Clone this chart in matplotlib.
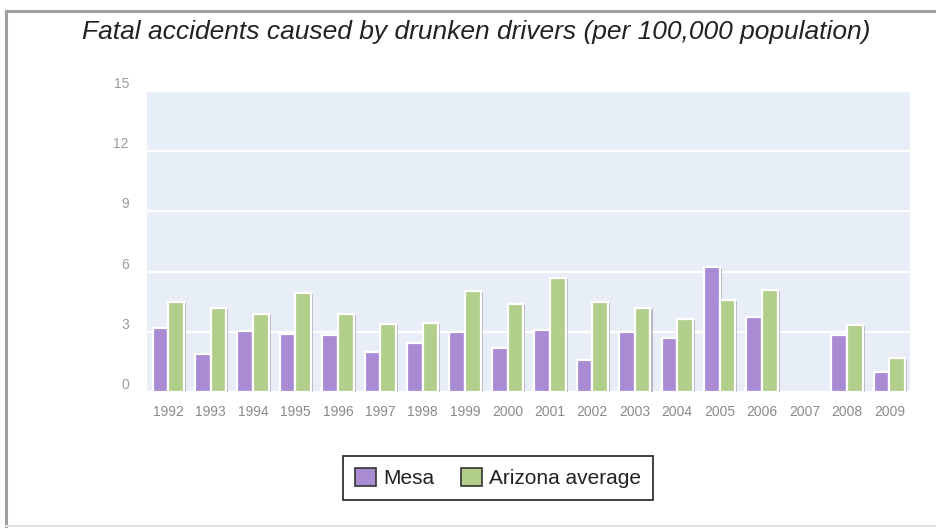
import matplotlib.pyplot as plt
import matplotlib.patheffects as pe
import numpy as np
from matplotlib.patches import Patch
from matplotlib.lines import Line2D

# Fatal accidents per 100,000 population, 2007 has no data.
years = ["1992", "1993", "1994", "1995", "1996", "1997", "1998", "1999", "2000",
         "2001", "2002", "2003", "2004", "2005", "2006", "2007", "2008", "2009"]
mesa = [3.2, 1.9, 3.05, 2.9, 2.85, 2.0, 2.45, 3.0, 2.2,
        3.1, 1.6, 3.0, 2.7, 6.25, 3.75, np.nan, 2.85, 1.0]
arizona = [4.5, 4.2, 3.9, 4.95, 3.9, 3.4, 3.45, 5.05, 4.4,
           5.7, 4.5, 4.2, 3.65, 4.6, 5.1, np.nan, 3.35, 1.7]
y_ticks = [0, 3, 6, 9, 12, 15]

mesa_color = "#a88bd3"
az_color = "#b2ce8b"

plt.rcParams["font.family"] = ["Liberation Sans", "DejaVu Sans"]

fig = plt.figure(figsize=(9.37, 5.29), dpi=100)
ax = fig.add_axes([147 / 937, 1 - 392 / 529, (910.5 - 147) / 937, (392 - 91) / 529])
ax.set_facecolor("#e8eef8")

x = np.arange(len(years))
w = 0.37
shadow = [pe.SimplePatchShadow(offset=(1.5, -1), shadow_rgbFace="#666666", alpha=0.4), pe.Normal()]
b1 = ax.bar(x - w / 2, mesa, w, color=mesa_color, edgecolor="white", linewidth=1.6, zorder=3)
b2 = ax.bar(x + w / 2, arizona, w, color=az_color, edgecolor="white", linewidth=1.6, zorder=3)
for bar in list(b1) + list(b2):
    bar.set_path_effects(shadow)

ax.set_xlim(-0.5, len(years) - 0.5)
ax.set_ylim(0, 15)
ax.set_yticks(y_ticks)
ax.set_yticklabels([str(t) for t in y_ticks])
ax.set_xticks(x)
ax.set_xticklabels(years)
for t in ax.get_yticklabels():
    t.set_verticalalignment("bottom")
ax.grid(axis="y", color="white", linewidth=1.6, zorder=1)
ax.set_axisbelow(True)
ax.tick_params(axis="y", length=0, pad=13, labelsize=10, labelcolor="#9a9a9a")
ax.tick_params(axis="x", length=0, pad=9, labelsize=10, labelcolor="#8a8a8a")
for s in ax.spines.values():
    s.set_visible(False)

fig.text(476 / 937, 1 - 32 / 529, "Fatal accidents caused by drunken drivers (per 100,000 population)",
         ha="center", va="center", fontsize=19, style="italic", color="#222222")

handles = [Patch(facecolor=mesa_color, edgecolor="#333333", linewidth=1.2),
           Patch(facecolor=az_color, edgecolor="#333333", linewidth=1.2)]
leg = fig.legend(handles, ["Mesa", "Arizona average"], loc="center",
                 bbox_to_anchor=(498 / 937, 1 - 478 / 529), ncol=2, fontsize=15,
                 frameon=True, fancybox=False, edgecolor="black", borderpad=0.55,
                 handlelength=1.0, handleheight=1.0, handletextpad=0.35,
                 columnspacing=1.3, borderaxespad=0)
leg.get_frame().set_linewidth(1.3)
for t in leg.get_texts():
    t.set_color("#222222")

# grey frame around the whole chart
fig.add_artist(Line2D([6 / 937, 1.0], [1 - 11 / 529, 1 - 11 / 529], color="#a0a0a0", linewidth=2.2))
fig.add_artist(Line2D([6 / 937, 6 / 937], [1 - 11 / 529, 1 - 526 / 529], color="#a0a0a0", linewidth=2.2))
fig.add_artist(Line2D([6 / 937, 1.0], [1 - 526 / 529, 1 - 526 / 529], color="#e2e2e2", linewidth=1.5))

plt.savefig("out.png", dpi=100)
